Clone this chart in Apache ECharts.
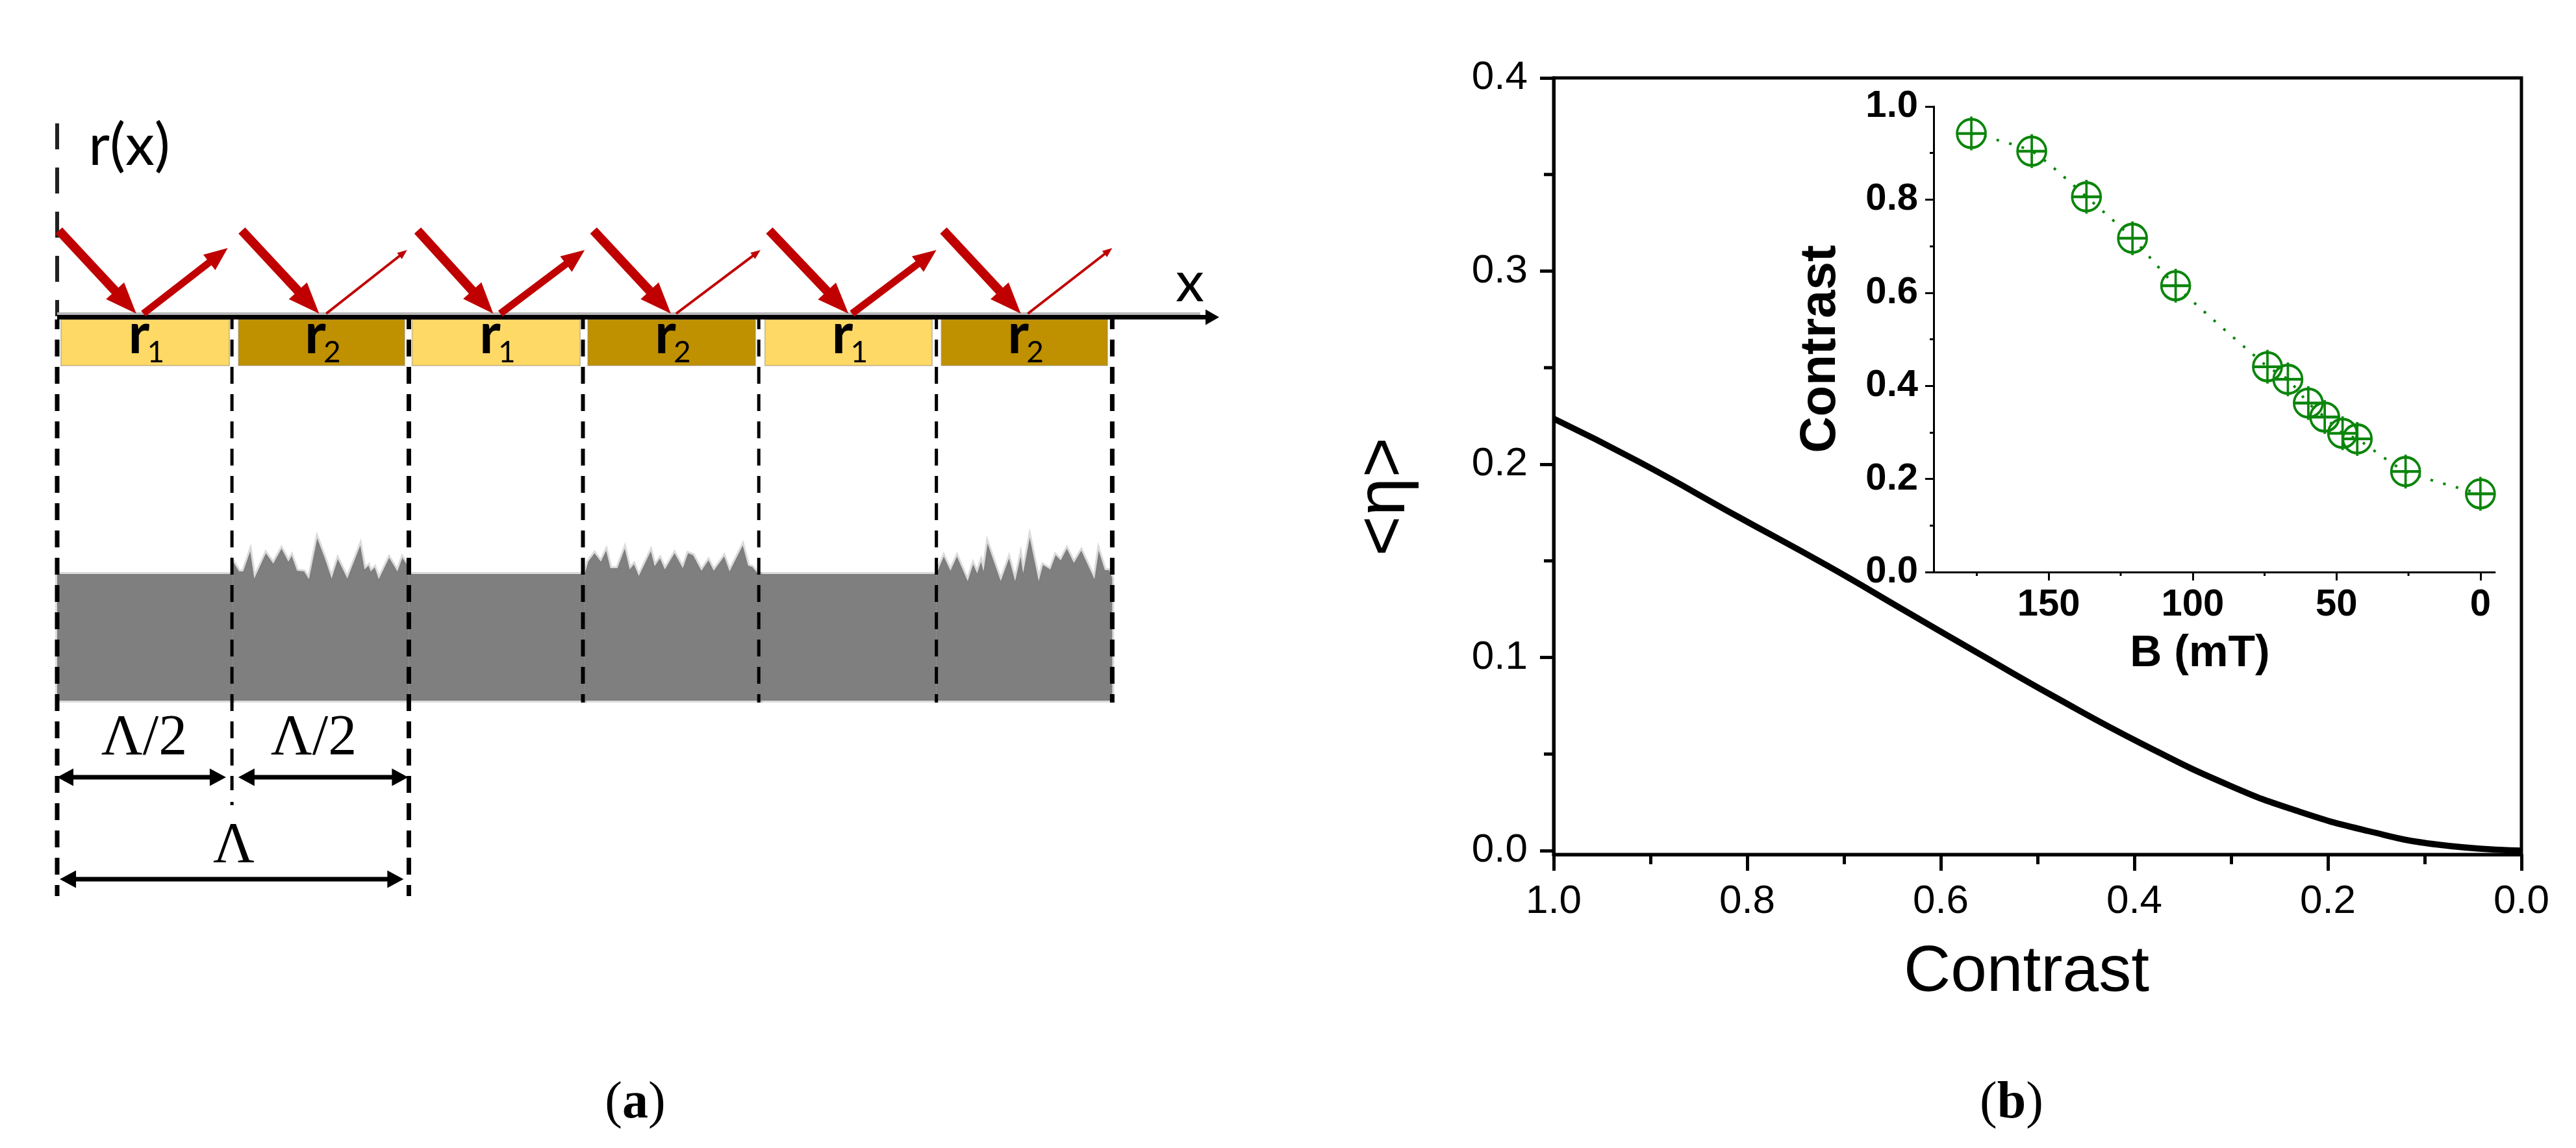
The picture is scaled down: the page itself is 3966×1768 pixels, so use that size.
<!DOCTYPE html>
<html>
<head>
<meta charset="utf-8">
<style>
  html, body { margin: 0; padding: 0; background: #fff; }
  #chart { width: 3966px; height: 1768px; }
</style>
<script src="https://cdn.jsdelivr.net/npm/echarts@6/dist/echarts.min.js"></script>
</head>
<body>
<div id="chart"></div>
<script>
// (b) main curve
var curveContrast = [1.0, 0.9119, 0.8089, 0.7172, 0.6344, 0.5606, 0.4823, 0.3929, 0.3011, 0.2295, 0.1579, 0.0864, 0.0];
var curveEta = [0.2236, 0.2013, 0.1727, 0.1475, 0.1234, 0.1020, 0.0796, 0.0555, 0.0336, 0.0202, 0.0101, 0.0031, 0.0];
var etaTicks = [0, 0.1, 0.2, 0.3, 0.4];
var etaMinorTicks = [0.05, 0.15, 0.25, 0.35];
var contrastTicks = [0, 0.2, 0.4, 0.6, 0.8, 1.0];

// (b) inset
var insetField = [176.9, 155.9, 136.9, 120.9, 105.9, 74, 66.9, 59.8, 54.1, 47.9, 42.8, 26, 0];
var insetContrast = [0.942, 0.904, 0.806, 0.717, 0.615, 0.441, 0.414, 0.363, 0.333, 0.298, 0.286, 0.216, 0.168];
var fieldTicks = [0, 50, 100, 150];
var fieldMinorTicks = [25, 75, 125, 175];

// (a) schematic, x in half periods, y in units above the surface line
var stripeStart = [0.022, 1.031, 2.019, 3.018, 4.025, 5.028];
var stripeEnd = [0.979, 1.976, 2.974, 3.971, 4.976, 5.973];
var stripeIndex = ['1', '2', '1', '2', '1', '2'];

var guideX = [0, 0.994, 0.994, 2, 2.99, 3.99, 5.0, 6.0];
var guideTop = [-0.05, -0.05, -7.48, -0.05, -0.05, -0.05, -0.05, -0.05];
var guideBottom = [-8.93, -7.3, -7.53, -8.93, -5.95, -5.95, -5.95, -5.95];
var guideWeight = [7, 5, 5, 7, 6, 5, 5, 7];

var incidentFromX = [0.01, 1.05, 2.05, 3.05, 4.05, 5.04];
var incidentToX = [0.45, 1.49, 2.48, 3.49, 4.50, 5.48];
var reflectedFromX = [0.49, 1.53, 2.52, 3.52, 4.52, 5.52];
var reflectedToX = [0.97, 1.99, 3.0, 4.0, 5.0, 6.0];
var reflectedToY = [1.05, 1.02, 1.02, 1.02, 1.02, 1.05];

var spanFrom = [0, 1.03, 0.015];
var spanTo = [0.96, 1.996, 1.97];
var spanY = [-7.1, -7.1, -8.67];

// surface profile of the r2 stripes: t across the stripe, h above the flat top
var roughT = [
  [0, 0.035, 0.058, 0.098, 0.121, 0.145, 0.187, 0.229, 0.276, 0.315, 0.334, 0.364, 0.404, 0.432, 0.479, 0.521, 0.561, 0.596, 0.65, 0.724, 0.748, 0.771, 0.783, 0.806, 0.829, 0.888, 0.935, 0.963, 1],
  [0, 0.02, 0.056, 0.092, 0.122, 0.146, 0.186, 0.228, 0.256, 0.28, 0.308, 0.376, 0.398, 0.428, 0.456, 0.511, 0.558, 0.588, 0.616, 0.664, 0.704, 0.734, 0.793, 0.824, 0.899, 0.929, 0.953, 0.986, 1],
  [0, 0.042, 0.08, 0.117, 0.178, 0.209, 0.232, 0.254, 0.268, 0.291, 0.366, 0.413, 0.448, 0.479, 0.493, 0.531, 0.582, 0.606, 0.648, 0.678, 0.707, 0.742, 0.782, 0.824, 0.899, 0.923, 0.958, 0.981, 1]
];
var roughH = [
  [0.19, 0.04, 0.04, 0.35, -0.07, 0.07, 0.32, 0.16, 0.39, 0.19, 0.28, 0.05, 0.04, -0.08, 0.55, 0.25, -0.07, 0.23, -0.07, 0.44, 0.07, 0.13, 0.04, 0.10, -0.08, 0.25, 0.04, 0.25, 0.10],
  [0, 0.19, 0.32, 0.19, 0.36, 0.09, 0.09, 0.39, 0.07, 0.15, -0.03, 0.35, 0.12, 0.24, 0.07, 0.32, 0.09, 0.32, 0.29, 0.05, 0.21, 0.05, 0.27, 0.04, 0.44, 0.13, 0.11, 0, 0],
  [0, 0.27, 0.05, 0.27, -0.11, 0.15, 0.01, 0.19, 0.04, 0.47, -0.11, 0.24, -0.11, 0.27, 0.01, 0.56, -0.11, 0.14, 0.07, 0.29, 0.21, 0.39, 0.17, 0.36, -0.08, 0.36, 0.06, 0.06, -0.06]
];

var SANS = '"Liberation Sans", Arial, sans-serif';
var SERIF = '"Liberation Serif", "Times New Roman", serif';
var CAL = 'Lato, "Liberation Sans", sans-serif';
var GREEN = '#0b850b';
var RED = '#c00000';

var bandTop = -3.97, bandBottom = -5.92;

function arrowPoly(api, from, to, w, headLen, headW, both) {
  var a = api.coord(from), b = api.coord(to);
  var dx = b[0] - a[0], dy = b[1] - a[1];
  var len = Math.sqrt(dx * dx + dy * dy);
  var ux = dx / len, uy = dy / len, nx = -uy, ny = ux;
  function p(along, off) { return [a[0] + ux * along + nx * off, a[1] + uy * along + ny * off]; }
  var pts = [];
  if (both) {
    pts.push(p(0, 0), p(headLen, headW / 2), p(headLen, w / 2));
  } else {
    pts.push(p(0, w / 2));
  }
  pts.push(p(len - headLen, w / 2), p(len - headLen, headW / 2), p(len, 0), p(len - headLen, -headW / 2), p(len - headLen, -w / 2));
  if (both) {
    pts.push(p(headLen, -w / 2), p(headLen, -headW / 2));
  } else {
    pts.push(p(0, -w / 2));
  }
  return pts;
}

function schematicSeries(name, data, renderItem) {
  return {
    name: name, type: 'custom', xAxisIndex: 0, yAxisIndex: 0, clip: false, silent: true,
    data: data, renderItem: renderItem
  };
}

var bandSeries = schematicSeries('band', [0, 1, 2, 3, 4, 5], function (params, api) {
  var i = params.dataIndex, pts = [];
  if (i % 2 === 0) {
    pts = [api.coord([i, bandTop]), api.coord([i + 1, bandTop]), api.coord([i + 1, bandBottom]), api.coord([i, bandBottom])];
  } else {
    var k = (i - 1) / 2;
    pts.push(api.coord([i, bandBottom]));
    roughT[k].forEach(function (t, j) {
      pts.push(api.coord([i + t, bandTop + roughH[k][j]]));
    });
    pts.push(api.coord([i + 1, bandBottom]));
  }
  return { type: 'polygon', shape: { points: pts }, style: { fill: '#7f7f7f', stroke: 'rgba(127,127,127,0.28)', lineWidth: 6 } };
});

var guideSeries = schematicSeries('guides', guideX, function (params, api) {
  var i = params.dataIndex;
  var a = api.coord([guideX[i], guideTop[i]]), b = api.coord([guideX[i], guideBottom[i]]);
  return {
    type: 'line', shape: { x1: a[0], y1: a[1], x2: b[0], y2: b[1] },
    style: { stroke: '#000', lineWidth: guideWeight[i], lineDash: [26, 16], lineDashOffset: 11 }
  };
});

// the r(x) axis above the surface has longer dashes
var rAxisSeries = schematicSeries('rAxis', [0], function (params, api) {
  var a = api.coord([0, 2.97]), b = api.coord([0, 0]);
  return {
    type: 'line', shape: { x1: a[0], y1: a[1], x2: b[0], y2: b[1] },
    style: { stroke: '#222', lineWidth: 6, lineDash: [40, 28] }
  };
});

var stripeSeries = schematicSeries('stripes', stripeIndex, function (params, api) {
  var i = params.dataIndex;
  var a = api.coord([stripeStart[i], -0.05]), b = api.coord([stripeEnd[i], -0.76]);
  var cx = (a[0] + b[0]) / 2;
  return {
    type: 'group',
    children: [
      {
        type: 'rect', shape: { x: a[0], y: a[1], width: b[0] - a[0], height: b[1] - a[1] },
        style: { fill: i % 2 === 0 ? '#ffd966' : '#bf9000', stroke: 'rgba(150,140,110,0.45)', lineWidth: 2 }
      },
      {
        type: 'text', x: cx - 26, y: a[1] + 68,
        style: { text: 'r', fontFamily: CAL, fontSize: 88, fontWeight: 'bold', fill: '#000', align: 'left', verticalAlign: 'bottom' }
      },
      {
        type: 'text', x: cx + 3, y: a[1] + 74,
        style: { text: stripeIndex[i], fontFamily: CAL, fontSize: 46, fill: '#000', align: 'left', verticalAlign: 'bottom' }
      }
    ]
  };
});

var surfaceSeries = schematicSeries('surface', [0], function (params, api) {
  var a = api.coord([0, 0.04]), b = api.coord([6.5, 0.04]);
  return {
    type: 'group',
    children: [
      { type: 'line', shape: { x1: a[0], y1: a[1], x2: b[0], y2: b[1] }, style: { stroke: '#b8b8b8', lineWidth: 4 } },
      { type: 'polygon', shape: { points: arrowPoly(api, [0, -0.015], [6.608, -0.015], 7, 21, 24) }, style: { fill: '#000' } }
    ]
  };
});

var incidentSeries = schematicSeries('incident', incidentFromX, function (params, api) {
  var i = params.dataIndex;
  return {
    type: 'polygon',
    shape: { points: arrowPoly(api, [incidentFromX[i], 1.32], [incidentToX[i], 0.04], 14, 48, 38) },
    style: { fill: RED }
  };
});

var reflectedSeries = schematicSeries('reflected', reflectedFromX, function (params, api) {
  var i = params.dataIndex, high = i % 2 === 0;
  return {
    type: 'polygon',
    shape: {
      points: arrowPoly(api, [reflectedFromX[i], 0.04], [reflectedToX[i], reflectedToY[i]],
        high ? 11 : 4, high ? 36 : 15, high ? 30 : 12)
    },
    style: { fill: RED }
  };
});

var spanSeries = schematicSeries('spans', spanFrom, function (params, api) {
  var i = params.dataIndex;
  return {
    type: 'polygon',
    shape: { points: arrowPoly(api, [spanFrom[i], spanY[i]], [spanTo[i], spanY[i]], 7, 25, 27, true) },
    style: { fill: '#000' }
  };
});

// minor ticks on the two axes whose range does not start on a tick
var etaMinorSeries = {
  name: 'eta minor ticks', type: 'custom', xAxisIndex: 1, yAxisIndex: 1, clip: false, silent: true,
  data: etaMinorTicks,
  renderItem: function (params, api) {
    var p = api.coord([1, etaMinorTicks[params.dataIndex]]);
    return { type: 'line', shape: { x1: p[0] - 15, y1: p[1], x2: p[0], y2: p[1] }, style: { stroke: '#000', lineWidth: 5 } };
  }
};
var fieldMinorSeries = {
  name: 'field minor ticks', type: 'custom', xAxisIndex: 2, yAxisIndex: 2, clip: false, silent: true,
  data: fieldMinorTicks,
  renderItem: function (params, api) {
    var p = api.coord([fieldMinorTicks[params.dataIndex], 0]);
    return { type: 'line', shape: { x1: p[0], y1: p[1], x2: p[0], y2: p[1] + 6 }, style: { stroke: '#000', lineWidth: 3 } };
  }
};

function note(text, x, y, size, family, extra) {
  var style = { text: text, fontSize: size, fontFamily: family, fill: '#000', align: 'center', verticalAlign: 'middle' };
  if (extra) { for (var k in extra) { style[k] = extra[k]; } }
  return { type: 'text', x: x, y: y, silent: true, z: 20, style: style };
}

var frame = { color: '#000', width: 5 };
var thin = { color: '#000', width: 3 };
var bigTick = { color: '#000', width: 5 };

var option = {
  animation: false,
  backgroundColor: '#fff',
  textStyle: { fontFamily: SANS },
  grid: [
    { left: 88, top: 150, width: 1789, height: 1250 },
    { left: 2392, top: 120, width: 1490, height: 1196, show: true, borderColor: '#000', borderWidth: 5, backgroundColor: 'transparent' },
    { left: 2977, top: 164, width: 864, height: 717 }
  ],
  xAxis: [
    { gridIndex: 0, type: 'value', min: 0, max: 6.608, show: false },
    {
      gridIndex: 1, type: 'value', min: 0, max: 1, interval: 0.2, inverse: true,
      name: 'Contrast', nameLocation: 'middle', nameGap: 132,
      nameTextStyle: { fontSize: 100, color: '#000', fontFamily: SANS, padding: [0, 34, 0, 0] },
      axisLine: { show: true, onZero: false, lineStyle: frame },
      axisTick: { show: true, length: 25, inside: false, lineStyle: bigTick },
      minorTick: { show: true, splitNumber: 2, length: 15, lineStyle: bigTick },
      splitLine: { show: false },
      axisLabel: {
        fontSize: 62, color: '#000', margin: 42, fontFamily: SANS, showMinLabel: true, showMaxLabel: true,
        hideOverlap: false,
        customValues: contrastTicks,
        formatter: function (v) { return v.toFixed(1); }
      }
    },
    {
      gridIndex: 2, type: 'value', min: -5, max: 190, inverse: true,
      name: 'B (mT)', nameLocation: 'middle', nameGap: 92,
      nameTextStyle: { fontSize: 68, fontWeight: 'bold', color: '#000', fontFamily: SANS, padding: [0, 44, 0, 0] },
      axisLine: { show: true, onZero: false, lineStyle: thin },
      axisTick: { show: true, length: 13, customValues: fieldTicks, lineStyle: thin },
      splitLine: { show: false },
      axisLabel: { fontSize: 58, fontWeight: 'bold', color: '#000', margin: 22, fontFamily: SANS, customValues: fieldTicks }
    }
  ],
  yAxis: [
    { gridIndex: 0, type: 'value', min: -9.13, max: 3.37, show: false },
    {
      gridIndex: 1, type: 'value', min: -0.002, max: 0.4,
      name: '<\u03b7>', nameLocation: 'middle', nameGap: 206, nameRotate: 90,
      nameTextStyle: { fontSize: 106, color: '#000', fontFamily: SANS, padding: [0, 94, 0, 0] },
      axisLine: { show: true, onZero: false, lineStyle: frame },
      axisTick: { show: true, length: 21, customValues: etaTicks, lineStyle: bigTick },
      splitLine: { show: false },
      axisLabel: {
        fontSize: 62, color: '#000', margin: 40, fontFamily: SANS, customValues: etaTicks,
        formatter: function (v) { return v.toFixed(1); }
      }
    },
    {
      gridIndex: 2, type: 'value', min: 0, max: 1, interval: 0.2,
      name: 'Contrast', nameLocation: 'middle', nameGap: 135, nameRotate: 90,
      nameTextStyle: { fontSize: 78, fontWeight: 'bold', color: '#000', fontFamily: SANS, padding: [0, 30, 0, 0] },
      axisLine: { show: true, onZero: false, lineStyle: thin },
      axisTick: { show: true, length: 13, lineStyle: thin },
      minorTick: { show: true, splitNumber: 2, length: 6, lineStyle: thin },
      splitLine: { show: false },
      axisLabel: {
        fontSize: 58, fontWeight: 'bold', color: '#000', margin: 24, fontFamily: SANS,
        formatter: function (v) { return v.toFixed(1); }
      }
    }
  ],
  series: [
    bandSeries,
    rAxisSeries,
    guideSeries,
    stripeSeries,
    surfaceSeries,
    incidentSeries,
    reflectedSeries,
    spanSeries,
    etaMinorSeries,
    fieldMinorSeries,
    {
      name: 'efficiency', type: 'line', xAxisIndex: 1, yAxisIndex: 1,
      data: curveContrast.map(function (c, i) { return [c, curveEta[i]]; }),
      smooth: 0.5, showSymbol: false, symbol: 'none', clip: false, silent: true,
      lineStyle: { color: '#000', width: 9.5 }
    },
    {
      name: 'contrast vs field', type: 'line', xAxisIndex: 2, yAxisIndex: 2,
      data: insetField.map(function (b, i) { return [b, insetContrast[i]]; }),
      smooth: 0.2, silent: true, z: 5,
      symbol: 'path://M0 16A16 16 0 1 1 32 16A16 16 0 1 1 0 16ZM16 -3L16 35M16 35L16 -3M0 16L32 16',
      symbolSize: [44, 52], showSymbol: true, showAllSymbol: true,
      itemStyle: { color: 'none', borderColor: GREEN, borderWidth: 4 },
      lineStyle: { color: GREEN, width: 4, type: [4, 16] }
    }
  ],
  graphic: [
    note('r(x)', 199, 225, 90, CAL),
    note('x', 1832, 436, 88, CAL),
    note('\u039b/2', 222, 1138, 88, SERIF),
    note('\u039b/2', 483, 1138, 88, SERIF),
    note('\u039b', 360, 1304, 88, SERIF),
    note('({b|a})', 978, 1700, 80, SERIF, { rich: { b: { fontSize: 80, fontFamily: SERIF, fontWeight: 'bold', fill: '#000' } } }),
    note('({b|b})', 3097, 1700, 80, SERIF, { rich: { b: { fontSize: 80, fontFamily: SERIF, fontWeight: 'bold', fill: '#000' } } })
  ]
};

var myChart = echarts.init(document.getElementById('chart'));
myChart.setOption(option);
window.addEventListener('resize', function () { myChart.resize(); });
</script>
</body>
</html>
